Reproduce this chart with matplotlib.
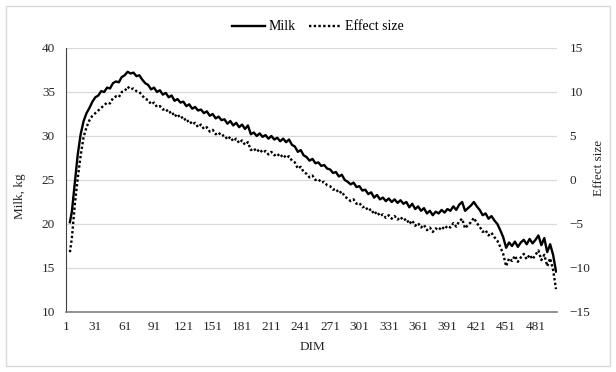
import matplotlib
matplotlib.use("Agg")
import matplotlib.pyplot as plt
from matplotlib.patches import Rectangle
from matplotlib.lines import Line2D

plt.rcParams['font.family'] = ['Liberation Serif', 'DejaVu Serif']

dim = [5, 7] + list(range(10, 503, 3))

milk = [20.2, 21.4,
        24.7, 27.9, 30.2, 31.7, 32.6, 33.2, 33.9, 34.4, 34.6, 35.1,
        35.0, 35.5, 35.4, 36.0, 36.2, 36.1, 36.7,
        36.9, 37.3, 37.1, 37.2, 36.8, 36.9, 36.4, 36.0, 35.8, 35.3,
        35.5, 35.0, 35.2, 34.7, 34.9, 34.4, 34.6, 34.0, 34.2, 33.8,
        33.9, 33.4, 33.6, 33.1, 33.3, 32.9, 33.0, 32.6, 32.8, 32.3,
        32.5, 32.0, 32.2, 31.8, 31.9, 31.4, 31.7, 31.2, 31.5, 31.0,
        31.3, 30.8, 31.2, 30.2, 30.4, 30.0, 30.3, 29.9, 30.1, 29.7,
        30.0, 29.6, 29.8, 29.4, 29.7, 29.3, 29.6, 29.0, 28.8, 28.2,
        28.4, 27.8, 27.6, 27.2, 27.4, 26.9, 27.0, 26.6, 26.7, 26.3,
        26.2, 25.8, 25.9, 25.4, 25.6, 25.0, 24.8, 24.5, 24.7, 24.2,
        24.3, 23.8, 23.9, 23.4, 23.6, 23.0, 23.3, 22.8, 23.0, 22.6,
        22.9, 22.5, 22.8, 22.4, 22.7, 22.3, 22.5, 21.9, 22.3, 21.7,
        22.0, 21.5, 21.8, 21.2, 21.5, 21.0, 21.4, 21.2, 21.6, 21.3,
        21.7, 21.5, 22.0, 21.6, 22.2, 22.5, 21.5, 21.8, 22.1, 22.5,
        22.0, 21.6, 21.0, 21.2, 20.6, 20.9, 20.4, 20.0, 19.3, 18.5,
        17.3, 17.9, 17.5, 18.0, 17.4, 17.9, 18.2, 17.7, 18.3, 17.8,
        18.2, 18.7, 17.6, 18.4, 16.8, 17.7, 16.5, 14.6]

effect = [-8.2, -6.6,
          -2.8, 0.2, 2.8, 4.9, 6.0, 6.8, 7.3, 7.6, 7.9, 8.2,
          8.5, 8.8, 8.7, 9.3, 9.5, 9.4, 10.0, 10.1, 10.6, 10.3,
          10.4, 10.1, 10.0, 9.6, 9.2, 9.1, 8.6,
          8.8, 8.3, 8.4, 8.0, 8.1, 7.6, 7.8, 7.2, 7.5, 7.0,
          7.2, 6.6, 6.8, 6.3, 6.5, 6.0, 6.3, 5.8, 6.0, 5.5,
          5.7, 5.2, 5.4, 5.0, 5.1, 4.6, 4.9, 4.4, 4.7, 4.2,
          4.5, 4.0, 4.3, 3.4, 3.6, 3.2, 3.5, 3.1, 3.3, 2.9,
          3.2, 2.8, 3.0, 2.6, 2.9, 2.5, 2.7, 2.2, 2.0, 1.3,
          1.5, 0.9, 0.7, 0.3, 0.5, 0.0, 0.1, -0.3, -0.2, -0.6,
          -0.7, -1.1, -1.0, -1.5, -1.3, -1.9, -2.1, -2.4, -2.2, -2.7,
          -2.6, -3.1, -3.0, -3.5, -3.3, -3.9, -3.6, -4.1, -3.9, -4.3,
          -4.0, -4.4, -4.1, -4.5, -4.2, -4.6, -4.4, -5.0, -4.6, -5.2,
          -4.9, -5.4, -5.1, -5.7, -5.4, -5.9, -5.5, -5.7, -5.3, -5.6,
          -5.2, -5.4, -4.9, -5.3, -4.7, -4.4, -5.5, -5.1, -4.8, -4.3,
          -4.9, -5.3, -5.9, -5.7, -6.3, -6.0, -6.5, -6.9, -7.6, -8.4,
          -9.8, -8.9, -9.2, -8.6, -9.3, -8.8, -8.4, -9.0, -8.5, -9.0,
          -8.5, -8.0, -9.1, -8.5, -9.8, -8.9, -10.2, -12.4]

x_ticks = list(range(1, 482, 30))
left_ticks = [10, 15, 20, 25, 30, 35, 40]
right_ticks = [-15, -10, -5, 0, 5, 10, 15]

fig = plt.figure(figsize=(6.16, 3.72), dpi=100)
fig.patches.append(Rectangle((6/616, 6/372), 604/616, 360/372, transform=fig.transFigure,
                             fill=False, edgecolor='#d9d9d9', linewidth=1.0))

ax = fig.add_axes([66/616, 1-312/372, 491/616, 264/372])
ax2 = ax.twinx()

ax.plot(dim, milk, color='black', linewidth=1.7)
ax2.plot(dim, effect, color='black', linewidth=1.7, linestyle=(0, (1, 1)))

ax.set_xlim(1, 503)
ax.set_ylim(10, 40)
ax2.set_ylim(-15, 15)
ax.set_xticks(x_ticks)
ax.set_xticklabels([str(t) for t in x_ticks])
ax.set_yticks(left_ticks)
ax2.set_yticks(right_ticks)

ax.grid(axis='y', color='#d9d9d9', linewidth=0.9)
ax.set_axisbelow(True)

for a in (ax, ax2):
    for s in ('top', 'right'):
        a.spines[s].set_visible(False)
ax2.spines['left'].set_visible(False)
ax2.spines['bottom'].set_visible(False)
ax.spines['left'].set_color('#404040')
ax.spines['bottom'].set_color('#7f7f7f')
ax.spines['bottom'].set_linewidth(1.2)

fs = 9.5
ax.tick_params(axis='x', length=0, pad=6.5, labelsize=fs, colors='#262626')
ax.tick_params(axis='y', length=0, pad=8, labelsize=fs, colors='#262626')
ax2.tick_params(axis='y', length=0, pad=9, labelsize=fs, colors='#262626')

ax.set_xlabel('DIM', fontsize=fs, color='#262626')
ax.set_ylabel('Milk, kg', fontsize=fs, color='#262626')
ax2.set_ylabel('Effect size', fontsize=fs, color='#262626')
ax.xaxis.set_label_coords(0.501, -0.133)
ax.yaxis.set_label_coords(-0.094, 0.44)
ax2.yaxis.set_label_coords(1.086, 0.545)
ax.xaxis.label.set_va('center')
ax.yaxis.label.set_va('center')
ax2.yaxis.label.set_va('center')

handles = [Line2D([], [], color='black', linewidth=1.7),
           Line2D([], [], color='black', linewidth=1.7, linestyle=(0, (1, 1)))]
fig.legend(handles, ['Milk', 'Effect size'], loc='center', bbox_to_anchor=(318/616, 1-27/372),
           ncol=2, frameon=False, fontsize=10, handlelength=2.4, handletextpad=0.2,
           columnspacing=1.0)

fig.savefig('out.png', dpi=100)
